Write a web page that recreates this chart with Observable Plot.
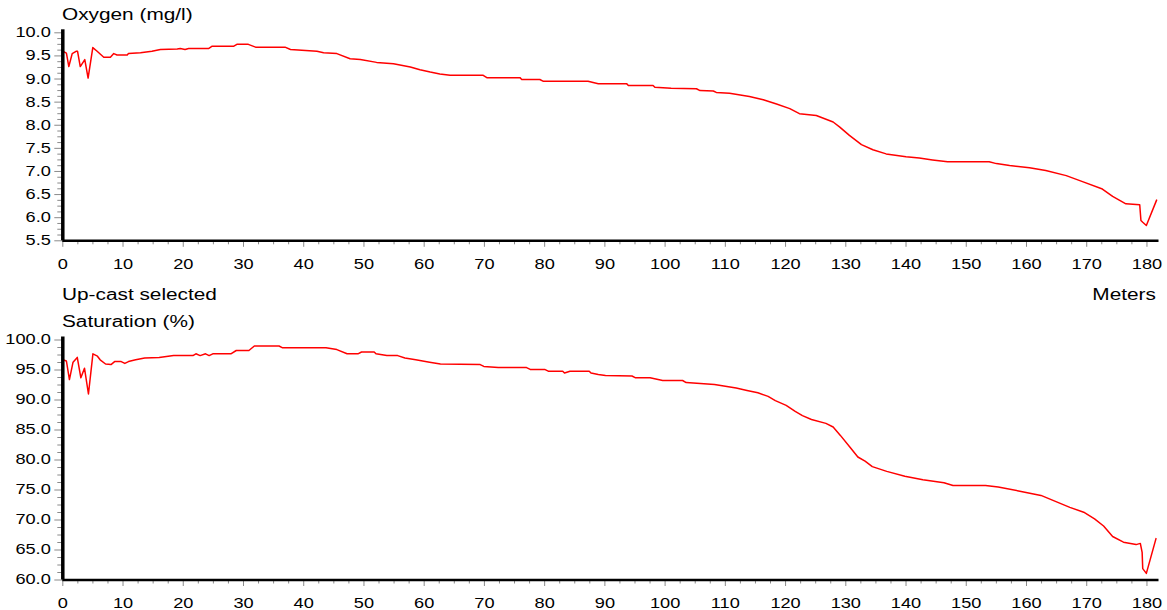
<!DOCTYPE html>
<html>
<head>
<meta charset="utf-8">
<script src="https://cdn.jsdelivr.net/npm/d3@7"></script>
<script src="https://cdn.jsdelivr.net/npm/@observablehq/plot@0.6"></script>
<style>
  body { margin: 0; background: #fff; }
  #wrap { position: relative; width: 1167px; height: 610px; overflow: hidden; background: #fff;
          font-family: "Liberation Sans", Arial, sans-serif; }
  .lbl { position: absolute; z-index: 5; font-size: 16px; line-height: 16px; white-space: nowrap; color: #000;
         transform: scaleX(1.3); transform-origin: left top; }
  .lbl.right { transform-origin: right top; }
  .chart { position: absolute; left: 0; z-index: 1; }
</style>
</head>
<body>
<div id="wrap">
  <div class="chart" id="c1" style="top:0px;"></div>
  <div class="chart" id="c2" style="top:335px;"></div>
  <div class="lbl" style="left:62px; top:7px;">Oxygen (mg/l)</div>
  <div class="lbl" style="left:62px; top:286.5px;">Up-cast selected</div>
  <div class="lbl right" style="right:11.5px; top:286.5px;">Meters</div>
  <div class="lbl" style="left:62px; top:314px;">Saturation (%)</div>
</div>
<script>
// ---- data ----
const xTickLabels = [0, 10, 20, 30, 40, 50, 60, 70, 80, 90, 100, 110, 120, 130, 140, 150, 160, 170, 180];
const oxygenTicks = [5.5, 6.0, 6.5, 7.0, 7.5, 8.0, 8.5, 9.0, 9.5, 10.0];
const saturationTicks = [60, 65, 70, 75, 80, 85, 90, 95, 100];

const oxygenDepth = [0.0, 0.6, 1.0, 1.56, 2.2, 2.45, 2.9, 3.65, 4.2, 4.98, 5.7, 6.8, 7.9, 8.46, 9.0, 10.7, 10.9, 12.9, 14.8, 16.2,
  19.0, 19.5, 20.3, 20.9, 24.2, 24.8, 28.4, 28.9, 30.8, 32.0, 36.9, 37.8, 42.2, 43.3, 45.5, 47.7, 49.4, 52.1, 54.9, 57.7,
  59.3, 61.0, 62.6, 64.3, 69.8, 70.4, 75.9, 76.2, 79.2, 79.8, 87.2, 88.9, 93.6, 93.9, 98.0, 98.3, 101.0, 105.2, 105.8, 108.0,
  108.5, 110.7, 114.0, 116.3, 118.5, 120.7, 122.3, 125.1, 127.9, 129.0, 130.6, 132.6, 134.5, 136.7, 140.0, 142.2, 144.4, 146.9, 153.8, 155.0,
  157.2, 160.5, 163.2, 166.6, 169.3, 172.6, 174.3, 176.5, 178.8, 179.0, 179.3, 179.9, 181.6];
const oxygenValue = [9.60, 9.56, 9.27, 9.55, 9.60, 9.60, 9.27, 9.42, 9.02, 9.68, 9.60, 9.47, 9.47, 9.55, 9.52, 9.52, 9.55, 9.57, 9.60, 9.64,
  9.65, 9.66, 9.64, 9.66, 9.66, 9.71, 9.71, 9.75, 9.75, 9.69, 9.69, 9.64, 9.60, 9.57, 9.55, 9.44, 9.42, 9.36, 9.33, 9.26,
  9.20, 9.15, 9.11, 9.08, 9.08, 9.03, 9.03, 8.99, 8.99, 8.95, 8.95, 8.90, 8.90, 8.86, 8.86, 8.82, 8.80, 8.79, 8.75, 8.74,
  8.71, 8.69, 8.62, 8.55, 8.46, 8.36, 8.25, 8.21, 8.07, 7.96, 7.78, 7.58, 7.47, 7.38, 7.32, 7.29, 7.25, 7.21, 7.21, 7.17,
  7.13, 7.08, 7.02, 6.91, 6.78, 6.62, 6.46, 6.30, 6.28, 5.94, 5.90, 5.83, 6.38];

const saturationDepth = [0.0, 0.6, 1.1, 1.7, 2.4, 3.0, 3.6, 4.26, 5.0, 5.75, 6.2, 7.1, 8.0, 8.6, 9.7, 10.3, 10.9, 12.1, 13.6, 16.0,
  18.4, 21.6, 22.1, 22.8, 23.7, 24.3, 24.9, 27.9, 28.8, 30.9, 31.8, 35.9, 36.5, 43.7, 45.5, 47.2, 49.0, 49.6, 51.7, 52.0,
  53.8, 55.6, 56.8, 58.6, 60.9, 62.7, 69.3, 69.9, 72.3, 77.0, 77.6, 80.0, 80.6, 83.0, 83.3, 84.2, 87.4, 87.7, 88.9, 90.1,
  94.5, 95.1, 97.5, 99.6, 102.9, 103.5, 108.2, 110.0, 111.8, 113.6, 115.4, 117.1, 118.3, 120.1, 121.6, 122.8, 124.3, 126.7, 127.9, 129.1,
  130.8, 132.0, 133.2, 134.4, 136.8, 139.8, 142.8, 146.3, 147.8, 153.2, 155.3, 158.9, 162.4, 164.8, 167.2, 169.5, 171.3, 172.8, 174.3, 176.1,
  178.2, 178.9, 179.2, 179.3, 179.9, 181.5];
const saturationValue = [96.7, 96.5, 93.4, 96.3, 97.1, 93.7, 95.3, 91.0, 97.7, 97.3, 96.7, 96.0, 95.9, 96.4, 96.4, 96.1, 96.4, 96.7, 97.0, 97.1,
  97.4, 97.4, 97.7, 97.4, 97.7, 97.4, 97.7, 97.7, 98.25, 98.25, 99.0, 99.0, 98.7, 98.7, 98.4, 97.7, 97.7, 98.0, 98.0, 97.7,
  97.4, 97.4, 97.0, 96.7, 96.3, 96.0, 95.9, 95.6, 95.4, 95.4, 95.1, 95.1, 94.8, 94.8, 94.5, 94.8, 94.8, 94.5, 94.25, 94.1,
  94.0, 93.7, 93.7, 93.25, 93.25, 92.9, 92.6, 92.3, 92.0, 91.6, 91.2, 90.6, 89.9, 89.1, 88.1, 87.4, 86.75, 86.1, 85.5, 84.1,
  82.0, 80.5, 79.8, 78.9, 78.1, 77.3, 76.7, 76.2, 75.75, 75.75, 75.5, 74.8, 74.1, 73.1, 72.1, 71.3, 70.2, 69.0, 67.25, 66.3,
  65.9, 66.1, 64.6, 61.9, 61.1, 66.9];

// ---- drawing ----
const FONT = '"Liberation Sans", Arial, sans-serif';
const xMinor = d3.range(0, 182.01, 2.5).filter(v => Math.abs(v % 10) > 1e-9);

function stretchText(svg) {
  svg.querySelectorAll("text").forEach(t => {
    const tr = t.getAttribute("transform");
    if (tr) t.setAttribute("transform", tr + " scale(1.3,1)");
    else {
      const x = +t.getAttribute("x") || 0, y = +t.getAttribute("y") || 0;
      t.setAttribute("transform", `translate(${x},${y}) scale(1.3,1) translate(${-x},${-y})`);
    }
  });
  return svg;
}

function panel({depth, values, yDomain, yTicks, yStep, height, marginTop, marginBottom}) {
  const data = depth.map((d, i) => ({depth: d, value: values[i]}));
  const yMinor = d3.range(yDomain[0], yDomain[1] + 1e-9, yStep)
    .filter(v => !yTicks.some(t => Math.abs(t - v) < 1e-6));
  const svg = Plot.plot({
    width: 1167,
    height,
    marginLeft: 62.3,
    marginRight: 8.5,
    marginTop,
    marginBottom,
    style: {fontFamily: FONT, fontSize: "14px", color: "#000", background: "transparent", overflow: "visible"},
    x: {domain: [0, 182], label: null, axis: null},
    y: {domain: yDomain, label: null, axis: null},
    marks: [
      Plot.axisX(xMinor, {tickSize: 4, stroke: "#8a8a8a", fill: "none", tickFormat: () => "", label: null}),
      Plot.axisX(xTickLabels, {tickSize: 6.5, tickPadding: 12, stroke: "#8a8a8a", fill: "#000", tickFormat: d => String(d), label: null}),
      Plot.axisY(yMinor, {tickSize: 5, stroke: "#8a8a8a", fill: "none", tickFormat: () => "", label: null}),
      Plot.axisY(yTicks, {tickSize: 8, tickPadding: 4, stroke: "#8a8a8a", fill: "#000", tickFormat: d3.format(".1f"), label: null}),
      Plot.line(data, {x: "depth", y: "value", stroke: "#ff0000", strokeWidth: 1.5}),
      Plot.ruleY([yDomain[0]], {stroke: "#000", strokeWidth: 2.5}),
      Plot.ruleX([0], {stroke: "#000", strokeWidth: 3.5, insetTop: -3})
    ]
  });
  return stretchText(svg);
}

document.getElementById("c1").appendChild(panel({
  depth: oxygenDepth, values: oxygenValue, yDomain: [5.5, 10.0], yTicks: oxygenTicks, yStep: 0.125,
  height: 275, marginTop: 32.3, marginBottom: 34.7
}));
document.getElementById("c2").appendChild(panel({
  depth: saturationDepth, values: saturationValue, yDomain: [60, 100], yTicks: saturationTicks, yStep: 1.25,
  height: 275, marginTop: 4.5, marginBottom: 30.5
}));
</script>
</body>
</html>
